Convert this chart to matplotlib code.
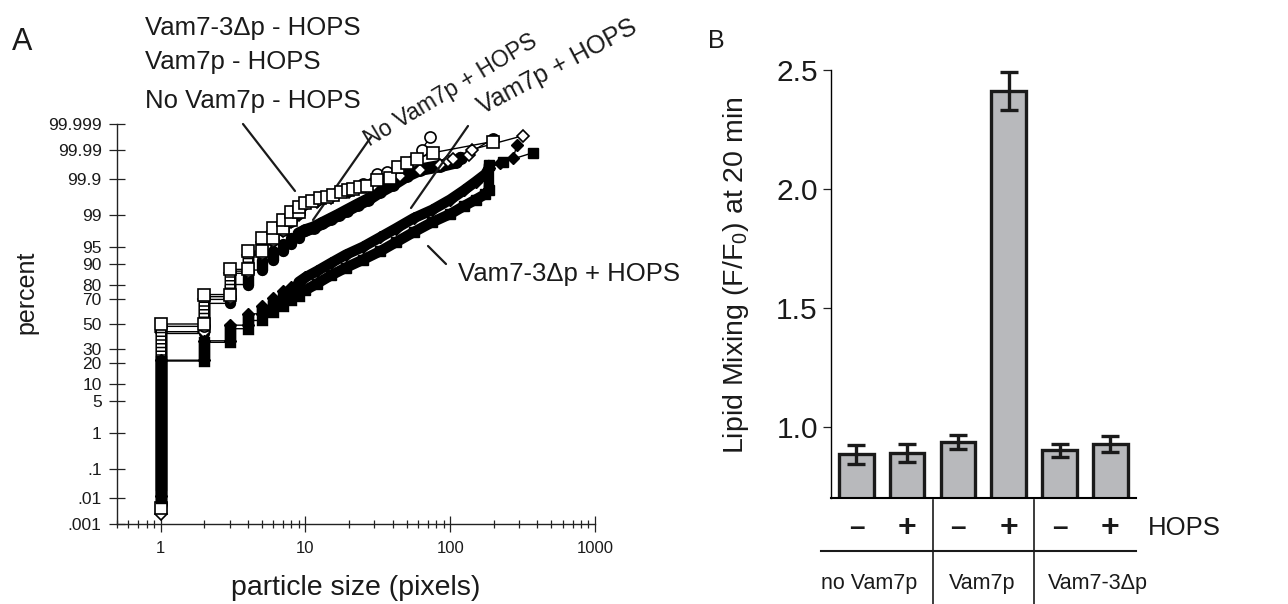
import math
import numpy as np
import matplotlib
matplotlib.use("Agg")
import matplotlib.pyplot as plt
from matplotlib.ticker import NullFormatter, NullLocator

plt.rcParams['font.family'] = ['Liberation Sans', 'DejaVu Sans']
plt.rcParams['mathtext.fontset'] = 'custom'
plt.rcParams['mathtext.rm'] = 'Liberation Sans'
plt.rcParams['lines.scale_dashes'] = False

# ---- panel A data: cumulative percent of particles (top of each size stack) ----
stack_sizes = [1, 2, 3, 4, 5, 6, 7, 8, 9]

# - HOPS (open symbols)
osq_low = 0.0045
osq_tops = [50, 73.5, 87.8, 94, 96.6, 98.0, 98.7, 99.16, 99.38]
osq_tail_x = [10, 11.1, 12.7, 14, 15.5, 17.6, 19.7, 21.4, 23.8, 26.5, 31, 38.5, 43.6, 50.3, 59, 76, 196]
osq_tail_p = [99.52, 99.57, 99.63, 99.67, 99.71, 99.75, 99.78, 99.8, 99.82, 99.84, 99.89, 99.91,
              99.958, 99.969, 99.979, 99.987, 99.995]

oci_low = 0.006
oci_tops = [48, 72, 87, 93.5, 96.3, 97.8, 98.6, 99.1, 99.35]
oci_tail_x = [10, 12, 15, 20, 25, 31, 36.6, 45, 55, 63.5, 72.8]
oci_tail_p = [99.5, 99.6, 99.7, 99.79, 99.86, 99.93, 99.94, 99.96, 99.975, 99.99, 99.9966]

odi_low = 0.0025
odi_tops = [43.5, 70, 86, 93, 96, 97.6, 98.5, 99.0, 99.3]
odi_tail_x = [10, 12, 15, 20, 30, 45, 62, 85, 97, 105, 134, 141, 316]
odi_tail_p = [99.45, 99.55, 99.65, 99.75, 99.85, 99.92, 99.95, 99.965, 99.974, 99.978, 99.984, 99.99, 99.997]

# + HOPS (filled symbols)
fci_low = 0.02
fci_tops = [42, 67, 80, 87.5, 91.5, 94, 95.6, 96.6, 97.3]
fci_tail_x = [10, 11.4, 13, 15, 17, 19.3, 23, 27, 32.8, 40, 50, 62, 85, 110, 118, 197]
fci_tail_p = [97.7, 98.0, 98.4, 98.75, 99.0, 99.22, 99.45, 99.6, 99.76, 99.85, 99.92, 99.95,
              99.962, 99.972, 99.98, 99.996]

fdi_low = 0.012
fdi_tops = [22, 36, 49, 58.6, 65.3, 70.8, 75.6, 78.3, 81.5]
fdi_tail_x = [10, 12, 15, 19, 25, 33, 42, 56, 75, 100, 124, 150, 175, 185, 220, 272, 289]
fdi_tail_p = [84, 87, 90.3, 93, 95, 96.8, 97.9, 98.8, 99.25, 99.6, 99.78, 99.88, 99.93, 99.955,
              99.97, 99.98, 99.993]

fsq_low = 0.01
fsq_tops = [21.5, 34.8, 46, 53, 60, 65.3, 69.3, 72.5, 74.5]
fsq_tail_x = [10, 12, 15, 19, 25, 33, 42, 56, 75, 100, 124, 150, 175, 185, 185, 230, 373]
fsq_tail_p = [76.5, 80.5, 85, 88.5, 91.5, 94, 95.9, 97.5, 98.5, 99.05, 99.4, 99.6, 99.72, 99.78,
              99.965, 99.972, 99.987]

pct_ticks = [0.001, 0.01, 0.1, 1, 5, 10, 20, 30, 50, 70, 80, 90, 95, 99, 99.9, 99.99, 99.999]
pct_labels = ['.001', '.01', '.1', '1', '5', '10', '20', '30', '50', '70', '80', '90', '95', '99',
              '99.9', '99.99', '99.999']

# ---- panel B data ----
lm_values = [0.883, 0.89, 0.934, 2.413, 0.90, 0.926]
lm_errors = [0.038, 0.037, 0.03, 0.08, 0.027, 0.034]
hops_signs = ['–', '+', '–', '+', '–', '+']
groups = ['no Vam7p', 'Vam7p', 'Vam7-3Δp']

W, H = 1288, 604


def norm_ppf(q):
    q = np.asarray(q, dtype=float)
    shape = q.shape
    q = np.clip(np.atleast_1d(q).ravel(), 1e-15, 1 - 1e-15)
    a = [-3.969683028665376e+01, 2.209460984245205e+02, -2.759285104469687e+02,
         1.383577518672690e+02, -3.066479806614716e+01, 2.506628277459239e+00]
    b = [-5.447609879822406e+01, 1.615858368580409e+02, -1.556989798598866e+02,
         6.680131188771972e+01, -1.328068155288572e+01]
    c = [-7.784894002430293e-03, -3.223964580411365e-01, -2.400758277161838e+00,
         -2.549732539343734e+00, 4.374664141464968e+00, 2.938163982698783e+00]
    d = [7.784695709041462e-03, 3.224671290700398e-01, 2.445134137142996e+00,
         3.754408661907416e+00]
    z = np.full_like(q, np.nan)
    lo = q < 0.02425
    hi = q > 1 - 0.02425
    mid = ~(lo | hi) & np.isfinite(q)

    def tail(t):
        return ((((((c[0] * t + c[1]) * t + c[2]) * t + c[3]) * t + c[4]) * t + c[5])
                / ((((d[0] * t + d[1]) * t + d[2]) * t + d[3]) * t + 1))

    z[lo] = tail(np.sqrt(-2 * np.log(q[lo])))
    z[hi] = -tail(np.sqrt(-2 * np.log(1 - q[hi])))
    r = q[mid] - 0.5
    s = r * r
    z[mid] = ((((((a[0] * s + a[1]) * s + a[2]) * s + a[3]) * s + a[4]) * s + a[5]) * r
              / (((((b[0] * s + b[1]) * s + b[2]) * s + b[3]) * s + b[4]) * s + 1))
    return z.reshape(shape)


_erf = np.vectorize(math.erf, otypes=[float])


def pct_forward(p):
    return norm_ppf(np.asarray(p, dtype=float) / 100.0)


def pct_inverse(z):
    return 50.0 * (1.0 + _erf(np.asarray(z, dtype=float) / math.sqrt(2)))


def draw_series(ax, low, tops, tail_x, tail_p, kind, z, band_lw=9.0):
    bottoms = [low] + tops[:-1]
    path_x, path_p = [], []
    for s, b, t in zip(stack_sizes, bottoms, tops):
        path_x += [s, s]
        path_p += [b, t]
    path_x += tail_x
    path_p += tail_p
    ax.plot(path_x, path_p, color='k', lw=1.0, zorder=z)

    if kind in ('s', 'o', 'D'):
        # open symbols: stacked markers look like a striped column
        ms = 8 if kind != 'D' else 5.8
        for s, b, t in zip(stack_sizes, bottoms, tops):
            ax.plot([s, s], [b, t], color='k', lw=8.2, solid_capstyle='butt', zorder=z)
            ax.plot([s, s], [b, t], color='white', lw=5.8, solid_capstyle='butt',
                    dashes=(1.6, 1.1), zorder=z)
            ax.plot([s, s], [b, t], ls='none', marker=kind, ms=ms,
                    mfc='white', mec='k', mew=1.2, zorder=z)
        ax.plot(tail_x, tail_p, ls='none', marker=kind, ms=ms,
                mfc='white', mec='k', mew=1.2, zorder=z)
    else:
        m = {'fo': 'o', 'fD': 'D', 'fs': 's'}[kind]
        cap = {'fo': 'round', 'fD': 'butt', 'fs': 'projecting'}[kind]
        ms = 6.5 if m == 'D' else 8.2
        for s, b, t in zip(stack_sizes, bottoms, tops):
            ax.plot([s, s], [b, t], color='k', lw=8.2, solid_capstyle=cap, zorder=z)
            if m == 'D':
                ax.plot([s, s], [b, t], ls='none', marker='D', ms=ms, color='k', zorder=z)
        band_x = [stack_sizes[-1]] + tail_x
        band_p = [tops[-1]] + tail_p
        n_band = sum(1 for v in band_x if v <= 185)
        ax.plot(band_x[:n_band], band_p[:n_band], color='k', lw=band_lw,
                solid_capstyle='round', solid_joinstyle='round', zorder=z)
        ax.plot(tail_x, tail_p, ls='none', marker=m, ms=min(ms, band_lw), color='k', zorder=z)


fig = plt.figure(figsize=(W / 100, H / 100), dpi=100)

# ---------------- panel A ----------------
axA = fig.add_axes([117 / W, 1 - 524 / H, (595 - 117) / W, (524 - 124) / H])
axA.set_xscale('log')
axA.set_yscale('function', functions=(pct_forward, pct_inverse))
axA.set_xlim(0.5, 1000)
axA.set_ylim(0.001, 99.999)

draw_series(axA, fci_low, fci_tops, fci_tail_x, fci_tail_p, 'fo', 2)
draw_series(axA, odi_low, odi_tops, odi_tail_x, odi_tail_p, 'D', 3)
draw_series(axA, oci_low, oci_tops, oci_tail_x, oci_tail_p, 'o', 4)
draw_series(axA, osq_low, osq_tops, osq_tail_x, osq_tail_p, 's', 5)
draw_series(axA, fdi_low, fdi_tops, fdi_tail_x, fdi_tail_p, 'fD', 6, band_lw=7.6)
draw_series(axA, fsq_low, fsq_tops, fsq_tail_x, fsq_tail_p, 'fs', 7, band_lw=7.6)

axA.set_yticks(pct_ticks, labels=pct_labels)
axA.yaxis.set_minor_locator(NullLocator())
axA.set_xticks([1, 10, 100, 1000], labels=['1', '10', '100', '1000'])
axA.xaxis.set_minor_formatter(NullFormatter())
axA.tick_params(axis='both', which='major', direction='inout', length=12, width=0.9,
                labelsize=12.5, color='#222222', labelcolor='#1a1a1a')
axA.tick_params(axis='x', which='minor', direction='inout', length=6, width=0.9, color='#222222')
axA.tick_params(axis='x', which='major', pad=6, labelsize=12)
axA.tick_params(axis='y', which='major', pad=5)
for side in ('top', 'right'):
    axA.spines[side].set_visible(False)
for side in ('left', 'bottom'):
    axA.spines[side].set_linewidth(1.0)
    axA.spines[side].set_color('#222222')


# leader lines (axes fraction coordinates)
def fx(px):
    return (px - 117) / (595 - 117)


def fy(py):
    return (524 - py) / (524 - 124)


for (x0, y0), (x1, y1) in [((243, 124), (295, 191)), ((371, 137), (313, 220)),
                           ((468, 126), (411, 208)), ((428, 246), (446, 264))]:
    axA.annotate('', xy=(fx(x1), fy(y1)), xytext=(fx(x0), fy(y0)), xycoords='axes fraction',
                 textcoords='axes fraction', annotation_clip=False,
                 arrowprops=dict(arrowstyle='-', lw=1.6, color='#1a1a1a', shrinkA=0, shrinkB=0))

txt = dict(color='#1a1a1a')
fig.text(12 / W, 1 - 50 / H, 'A', fontsize=22, ha='left', va='baseline', **txt)
fig.text(145 / W, 1 - 35 / H, 'Vam7-3Δp - HOPS', fontsize=18.5, ha='left', va='baseline', **txt)
fig.text(145 / W, 1 - 69 / H, 'Vam7p - HOPS', fontsize=18.5, ha='left', va='baseline', **txt)
fig.text(145 / W, 1 - 108 / H, 'No Vam7p - HOPS', fontsize=18.5, ha='left', va='baseline', **txt)
fig.text(451 / W, 1 - 90 / H, 'No Vam7p + HOPS', fontsize=16.5, rotation=31, ha='center',
         va='center', rotation_mode='anchor', **txt)
fig.text(557 / W, 1 - 67 / H, 'Vam7p + HOPS', fontsize=18, rotation=28, ha='center',
         va='center', rotation_mode='anchor', **txt)
fig.text(458 / W, 1 - 274 / H, 'Vam7-3Δp + HOPS', fontsize=18.5, ha='left', va='center', **txt)
fig.text(26 / W, 1 - 292 / H, 'percent', fontsize=18, rotation=90, ha='center', va='center', **txt)
fig.text(356 / W, 1 - 588 / H, 'particle size (pixels)', fontsize=20.5, ha='center',
         va='center', **txt)

# ---------------- panel B ----------------
axB = fig.add_axes([831 / W, 1 - 498 / H, (1135.7 - 831) / W, (498 - 70) / H])
xpos = np.arange(len(lm_values))
axB.bar(xpos, lm_values, width=0.68, color='#b8b9bc', edgecolor='#1a1a1a', linewidth=2.4, zorder=2)
axB.errorbar(xpos, lm_values, yerr=lm_errors, fmt='none', ecolor='#1a1a1a', elinewidth=2.4,
             capsize=6.5, capthick=2.4, zorder=3)
axB.set_xlim(-0.5, 5.5)
axB.set_ylim(0.7, 2.5)
axB.set_yticks([1.0, 1.5, 2.0, 2.5], labels=['1.0', '1.5', '2.0', '2.5'])
axB.set_xticks([])
axB.tick_params(axis='y', direction='out', length=6, width=0.9, labelsize=21.5, pad=3.5,
                color='#222222', labelcolor='#1a1a1a')
for side in ('top', 'right'):
    axB.spines[side].set_visible(False)
axB.spines['left'].set_linewidth(1.0)
axB.spines['bottom'].set_linewidth(1.5)

bfy = lambda py: (498 - py) / (498 - 70)
trB = axB.get_xaxis_transform()
for i, sgn in enumerate(hops_signs):
    axB.text(xpos[i], bfy(528), sgn, transform=trB, ha='center', va='center',
             fontsize=20 if sgn == '–' else 23, fontweight='bold', clip_on=False, **txt)
axB.text(5.742, bfy(528), 'HOPS', transform=trB, ha='left', va='center', fontsize=18.5,
         clip_on=False, **txt)
axB.plot([-0.70, 5.5], [bfy(550.7)] * 2, transform=trB, color='#1a1a1a', lw=1.5, clip_on=False)
for xs in (1.5, 3.5):
    axB.plot([xs, xs], [bfy(499.5), bfy(604)], transform=trB, color='#1a1a1a', lw=1.2,
             clip_on=False)
for gx, g in zip([0.258, 2.48, 4.75], groups):
    axB.text(gx, bfy(583), g, transform=trB, ha='center', va='center', fontsize=15.5,
             clip_on=False, **txt)

fig.text(736 / W, 1 - 275 / H, r'Lipid Mixing (F/F$_{\mathrm{0}}$) at 20 min', fontsize=20.5,
         rotation=90, ha='center', va='center', **txt)
fig.text(708 / W, 1 - 48 / H, 'B', fontsize=18, ha='left', va='baseline', **txt)

fig.savefig('out.png', dpi=100)
